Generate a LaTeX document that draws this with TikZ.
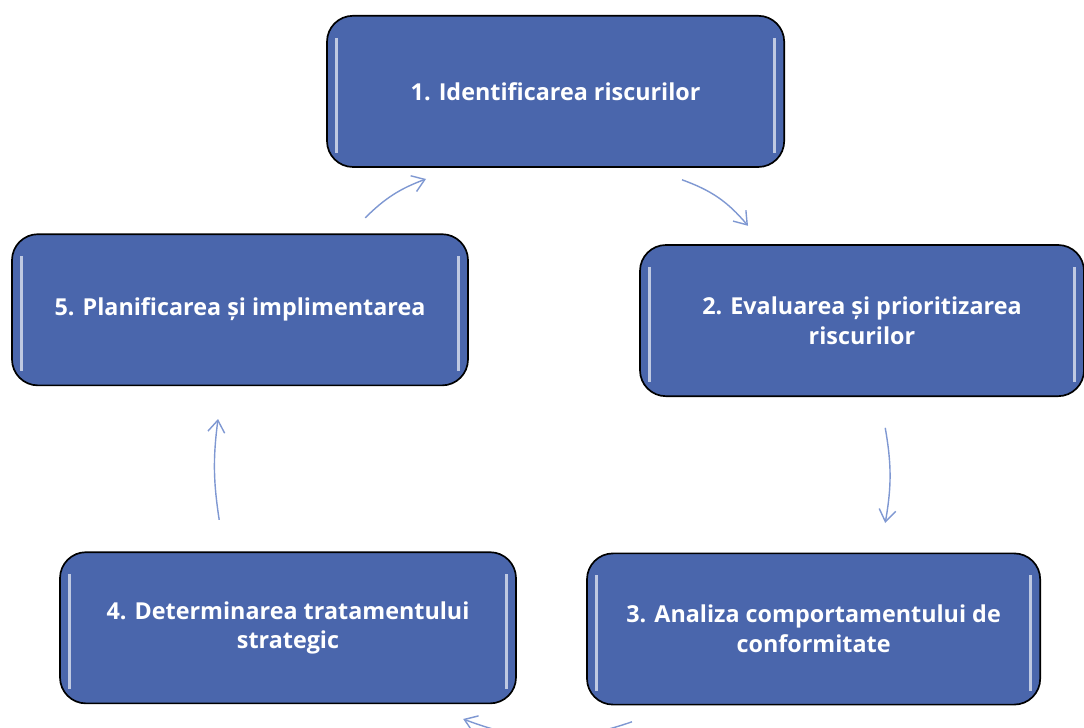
\documentclass[tikz,border=0pt]{standalone}
\usepackage{fontspec}
\setmainfont{Open Sans}
\usetikzlibrary{arrows.meta}

\definecolor{boxblue}{HTML}{4A66AC}
\definecolor{arrowblue}{HTML}{7F98D2}

\begin{document}
\begin{tikzpicture}[thick, >={Straight Barb[length=0.3cm,width=0.42cm]},
    stagebox/.style={draw=black, line width=1.2pt, fill=boxblue,
        rounded corners=0.65cm, minimum height=3.78cm,
        text=white, font=\fontsize{16.6}{21}\selectfont\bfseries, align=center,
        path picture={
            \draw[white, opacity=0.65, line width=1.6pt]
                ([xshift=0.24cm,yshift=-0.55cm]path picture bounding box.north west)
                -- ([xshift=0.24cm,yshift=0.35cm]path picture bounding box.south west);
            \draw[white, opacity=0.65, line width=1.6pt]
                ([xshift=-0.24cm,yshift=-0.55cm]path picture bounding box.north east)
                -- ([xshift=-0.24cm,yshift=0.35cm]path picture bounding box.south east);
        }},
    flow/.style={->, arrowblue, line width=1pt}]

    % Page frame
    \useasboundingbox (0,0) rectangle (27.1,18.175);

    %========================
    % Stages of the cycle
    %========================
    % Stage 1
    \node[stagebox, minimum width=11.43cm] (identif) at (13.89,15.89)
        {1. Identificarea riscurilor};

    % Stage 2
    \node[stagebox, minimum width=11.1cm] (evaluare) at (21.55,10.16)
        {2. Evaluarea și prioritizarea\\riscurilor};

    % Stage 3
    \node[stagebox, minimum width=11.33cm] (analiza) at (20.34,2.45)
        {3. Analiza comportamentului de\\conformitate};

    % Stage 4
    \node[stagebox, minimum width=11.4cm] (tratament) at (7.2,2.48)
        {4. Determinarea tratamentului\\strategic};

    % Stage 5
    \node[stagebox, minimum width=11.4cm] (planif) at (6.0,10.43)
        {5. Planificarea și implimentarea};

    %========================
    % Arrows between stages
    %========================
    \coordinate (out1) at (17.05,13.68);
    \coordinate (in2)  at (18.70,12.53);
    \coordinate (out2) at (22.13,7.48);
    \coordinate (in3)  at (22.13,5.10);
    \coordinate (out3) at (15.80,0.13);
    \coordinate (in4)  at (11.58,0.20);
    \coordinate (out4) at (5.48,5.18);
    \coordinate (in5)  at (5.45,7.70);
    \coordinate (out5) at (9.13,12.73);
    \coordinate (in1)  at (10.65,13.70);

    \draw[flow] (out1) to[bend left=15] (in2);
    \draw[flow] (out2) to[bend left=10] (in3);
    \draw[flow] (out3) to[bend left=20] (in4);
    \draw[flow] (out4) to[bend left=8] (in5);
    \draw[flow] (out5) to[bend left=12] (in1);

\end{tikzpicture}
\end{document}
